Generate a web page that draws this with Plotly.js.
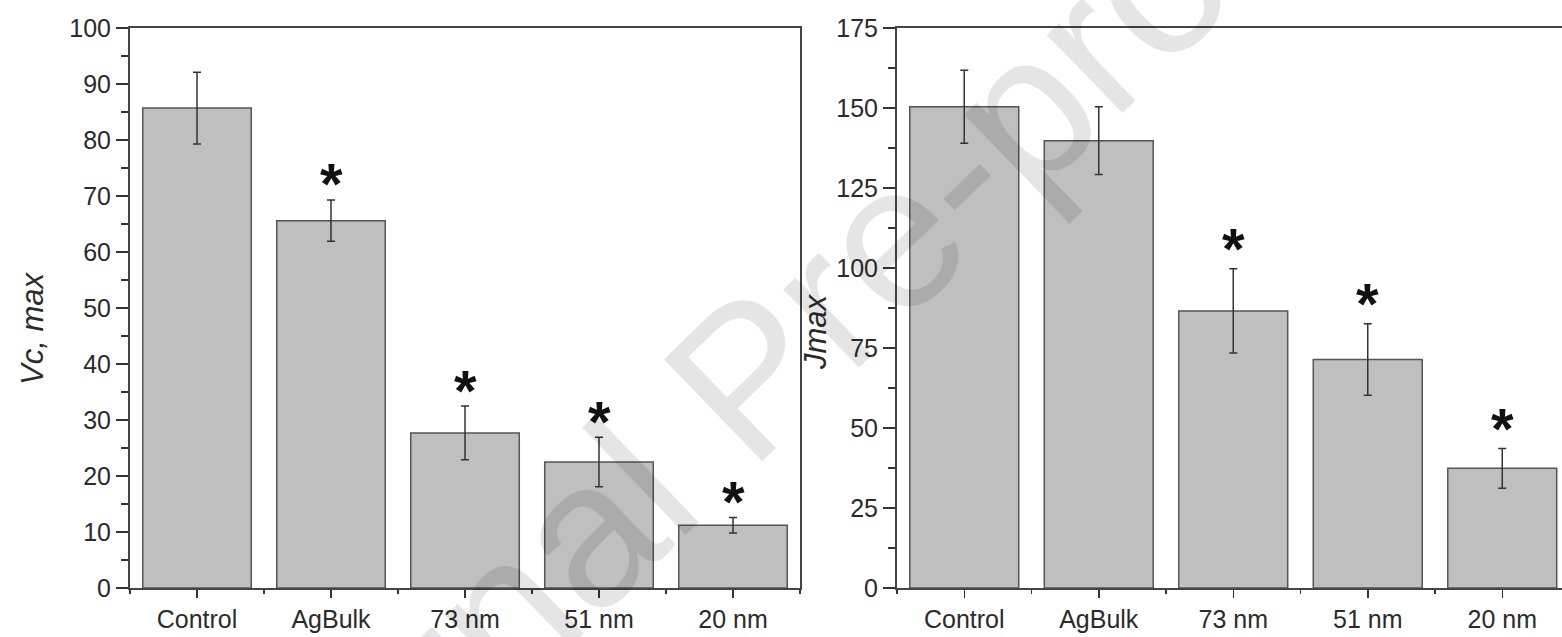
<!DOCTYPE html>
<html>
<head>
<meta charset="utf-8">
<script src="https://cdn.plot.ly/plotly-3.0.1.min.js"></script>
<style>html,body{margin:0;padding:0;background:#fff;}#chart{width:1562px;height:637px;}</style>
</head>
<body>
<div id="chart"></div>
<script>
// ---- data ----
const categories = ['Control', 'AgBulk', '73 nm', '51 nm', '20 nm'];
const vcMax      = [85.7, 65.6, 27.7, 22.5, 11.2];
const vcMaxErr   = [6.4, 3.7, 4.8, 4.4, 1.4];
const vcMaxSig   = ['', '*', '*', '*', '*'];
const jMax       = [150.4, 139.8, 86.6, 71.4, 37.4];
const jMaxErr    = [11.4, 10.6, 13.2, 11.2, 6.2];
const jMaxSig    = ['', '', '*', '*', '*'];
const yTitleLeft  = 'Vc, max';
const yTitleRight = 'Jmax';
const watermark   = 'Journal Pre-proof';

const W = 1562, H = 637;
const FONT = 'Arial, "Liberation Sans", sans-serif';
const TXT = '#2b2b2b';
const LINE = '#454545';
const idx = categories.map((c, i) => i);

function barTrace(vals, errs, xa, ya) {
  return {
    type: 'bar', x: idx, y: vals, xaxis: xa, yaxis: ya,
    marker: {color: '#bfbfbf', line: {color: '#555555', width: 1.5}},
    error_y: {type: 'data', array: errs, visible: true, color: '#333333', thickness: 1.5, width: 4},
    hoverinfo: 'skip', showlegend: false
  };
}

function xAxis(domain, range, anchor, mirror) {
  return {
    domain: domain, range: range, anchor: anchor, type: 'linear',
    tickvals: idx, ticktext: categories,
    ticks: 'outside', ticklen: 8, tickwidth: 1.5, tickcolor: '#333',
    minor: {ticks: 'outside', tick0: 0.5, dtick: 1, ticklen: 4, tickwidth: 1.5, tickcolor: '#333', showgrid: false},
    showline: true, linecolor: LINE, linewidth: 2, mirror: mirror,
    showgrid: false, zeroline: false, fixedrange: true,
    tickfont: {family: FONT, size: 25, color: TXT}
  };
}
function yAxis(range, dtick, minorDtick, anchor, mirror) {
  return {
    domain: [0, 1], range: range, anchor: anchor,
    tick0: 0, dtick: dtick,
    ticks: 'outside', ticklen: 12, tickwidth: 1.5, tickcolor: '#333',
    minor: {ticks: 'outside', tick0: 0, dtick: minorDtick, ticklen: 7, tickwidth: 1.5, tickcolor: '#333', showgrid: false},
    showline: true, linecolor: LINE, linewidth: 2, mirror: mirror,
    showgrid: false, zeroline: false, fixedrange: true,
    tickfont: {family: FONT, size: 25, color: TXT}
  };
}

const leftDom = [130 / W, 800 / W];
const rightDom = [897 / W, 1];
const rightSpan = (W - 897) / 134.5; // categories visible in right panel

const annotations = [];
function stars(sig, vals, errs, xr, yr, shift) {
  sig.forEach((s, i) => {
    if (!s) return;
    annotations.push({
      xref: xr, yref: yr, x: i, y: vals[i] + errs[i], text: s, showarrow: false,
      yanchor: 'middle', yshift: shift,
      font: {family: FONT, size: 58, color: '#111', weight: 'bold'}
    });
  });
}
stars(vcMaxSig, vcMax, vcMaxErr, 'x', 'y', 16);
stars(jMaxSig, jMax, jMaxErr, 'x2', 'y2', 20);

annotations.push({
  xref: 'paper', yref: 'paper', x: 32 / W, y: (588 - 329) / 560,
  text: '<i>' + yTitleLeft + '</i>', textangle: -90, showarrow: false,
  xanchor: 'center', yanchor: 'middle',
  font: {family: FONT, size: 31, color: TXT}
});
annotations.push({
  xref: 'paper', yref: 'paper', x: 815 / W, y: (588 - 332) / 560,
  text: '<i>' + yTitleRight + '</i>', textangle: -90, showarrow: false,
  xanchor: 'center', yanchor: 'middle',
  font: {family: FONT, size: 31, color: TXT}
});
annotations.push({
  xref: 'paper', yref: 'paper', x: 746 / W, y: (588 - 378) / 560,
  text: watermark, textangle: -44, showarrow: false,
  xanchor: 'center', yanchor: 'middle',
  font: {family: FONT, size: 206, color: 'rgba(0,0,0,0.1)'}
});

const layout = {
  width: W, height: H,
  margin: {l: 0, r: 0, t: 28, b: 49, pad: 0},
  paper_bgcolor: '#ffffff', plot_bgcolor: '#ffffff',
  bargap: 0.19, showlegend: false,
  xaxis: xAxis(leftDom, [-0.5, 4.5], 'y', true),
  yaxis: yAxis([0, 100], 10, 5, 'x', true),
  xaxis2: xAxis(rightDom, [-0.5, -0.5 + rightSpan], 'y2', true),
  yaxis2: yAxis([0, 175], 25, 12.5, 'x2', false),
  annotations: annotations
};

Plotly.newPlot('chart', [
  barTrace(vcMax, vcMaxErr, 'x', 'y'),
  barTrace(jMax, jMaxErr, 'x2', 'y2')
], layout, {staticPlot: true, displayModeBar: false});
</script>
</body>
</html>
